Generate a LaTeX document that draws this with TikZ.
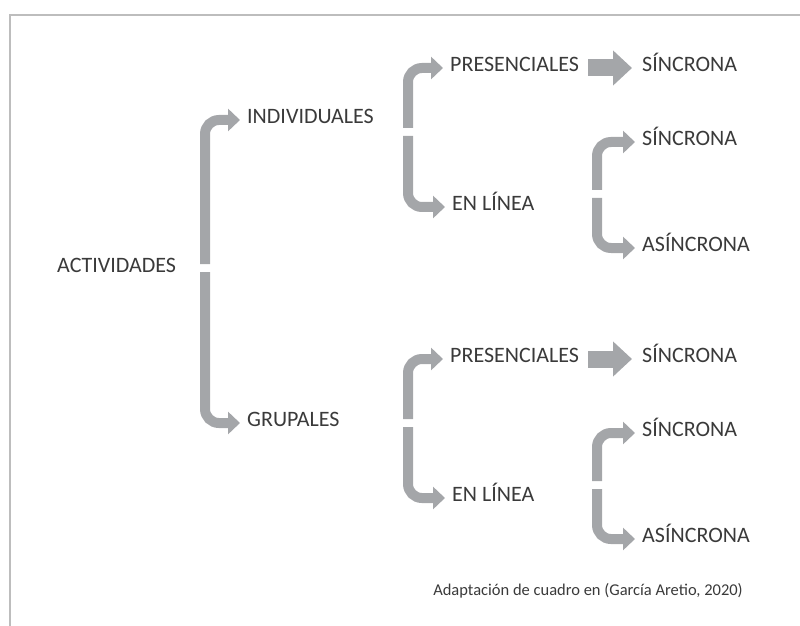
\documentclass[tikz,border=0pt]{standalone}
\usepackage{fontspec}
\setmainfont{Carlito}
\usetikzlibrary{arrows.meta}
\definecolor{arrowgray}{HTML}{A4A6A9}
\definecolor{textgray}{HTML}{3A3A3A}
\definecolor{framegray}{HTML}{BDBDBD}

\begin{document}
\begin{tikzpicture}[x=1bp,y=-1bp]
\tikzset{txt/.style = {font=\fontsize{22bp}{26bp}\selectfont, text=textgray, inner sep=0pt, anchor=west, text height=0.64em, text depth=0pt}}
\tikzset{brk/.style = {draw=arrowgray, line width=10bp, rounded corners=14bp, -{Triangle[width=22bp,length=12bp]}, shorten >=7bp}}
\tikzset{blk/.style = {draw=arrowgray, line width=17bp, -{Triangle[width=34bp,length=19bp]}, shorten <=9bp, shorten >=10bp}}
\useasboundingbox (0,0) rectangle (800,626);
% frame
\draw[framegray, line width=2bp] (10,626) -- (10,15) -- (800,15);
% nodes
\node[txt] (act) at (57,269) {ACTIVIDADES};
\node[txt] (ind) at (247,120) {INDIVIDUALES};
\node[txt] (gru) at (247,423) {GRUPALES};
\node[txt] (pres1) at (450,68) {PRESENCIALES};
\node[txt] (sin1) at (642,68) {SÍNCRONA};
\node[txt] (lin1) at (452,207) {EN LÍNEA};
\node[txt] (sin2) at (642,142) {SÍNCRONA};
\node[txt] (asin1) at (642,248) {ASÍNCRONA};
\node[txt] (pres2) at (450,359) {PRESENCIALES};
\node[txt] (sin3) at (642,359) {SÍNCRONA};
\node[txt] (lin2) at (452,498) {EN LÍNEA};
\node[txt] (sin4) at (642,433) {SÍNCRONA};
\node[txt] (asin2) at (642,539) {ASÍNCRONA};
\node[font=\fontsize{16.5bp}{19bp}\selectfont, text=textgray, inner sep=0pt] (src) at (588,591) {Adaptación de cuadro en (García Aretio, 2020)};
% bracket splits
\coordinate (g1) at (205,268);
\coordinate (g2) at (408,132);
\coordinate (g3) at (597,194);
\coordinate (g4) at (408,423);
\coordinate (g5) at (597,485);
% arrows
\draw[brk] ([yshift=4bp]g1) |- (ind.west);
\draw[brk] ([yshift=-4bp]g1) |- (gru.west);
\draw[brk] ([yshift=4bp]g2) |- (pres1.west);
\draw[brk] ([yshift=-4bp]g2) |- (lin1.west);
\draw[brk] ([yshift=4bp]g3) |- (sin2.west);
\draw[brk] ([yshift=-4bp]g3) |- (asin1.west);
\draw[brk] ([yshift=4bp]g4) |- (pres2.west);
\draw[brk] ([yshift=-4bp]g4) |- (lin2.west);
\draw[brk] ([yshift=4bp]g5) |- (sin4.west);
\draw[brk] ([yshift=-4bp]g5) |- (asin2.west);
\draw[blk] (pres1.east) -- (sin1.west);
\draw[blk] (pres2.east) -- (sin3.west);
\end{tikzpicture}
\end{document}
